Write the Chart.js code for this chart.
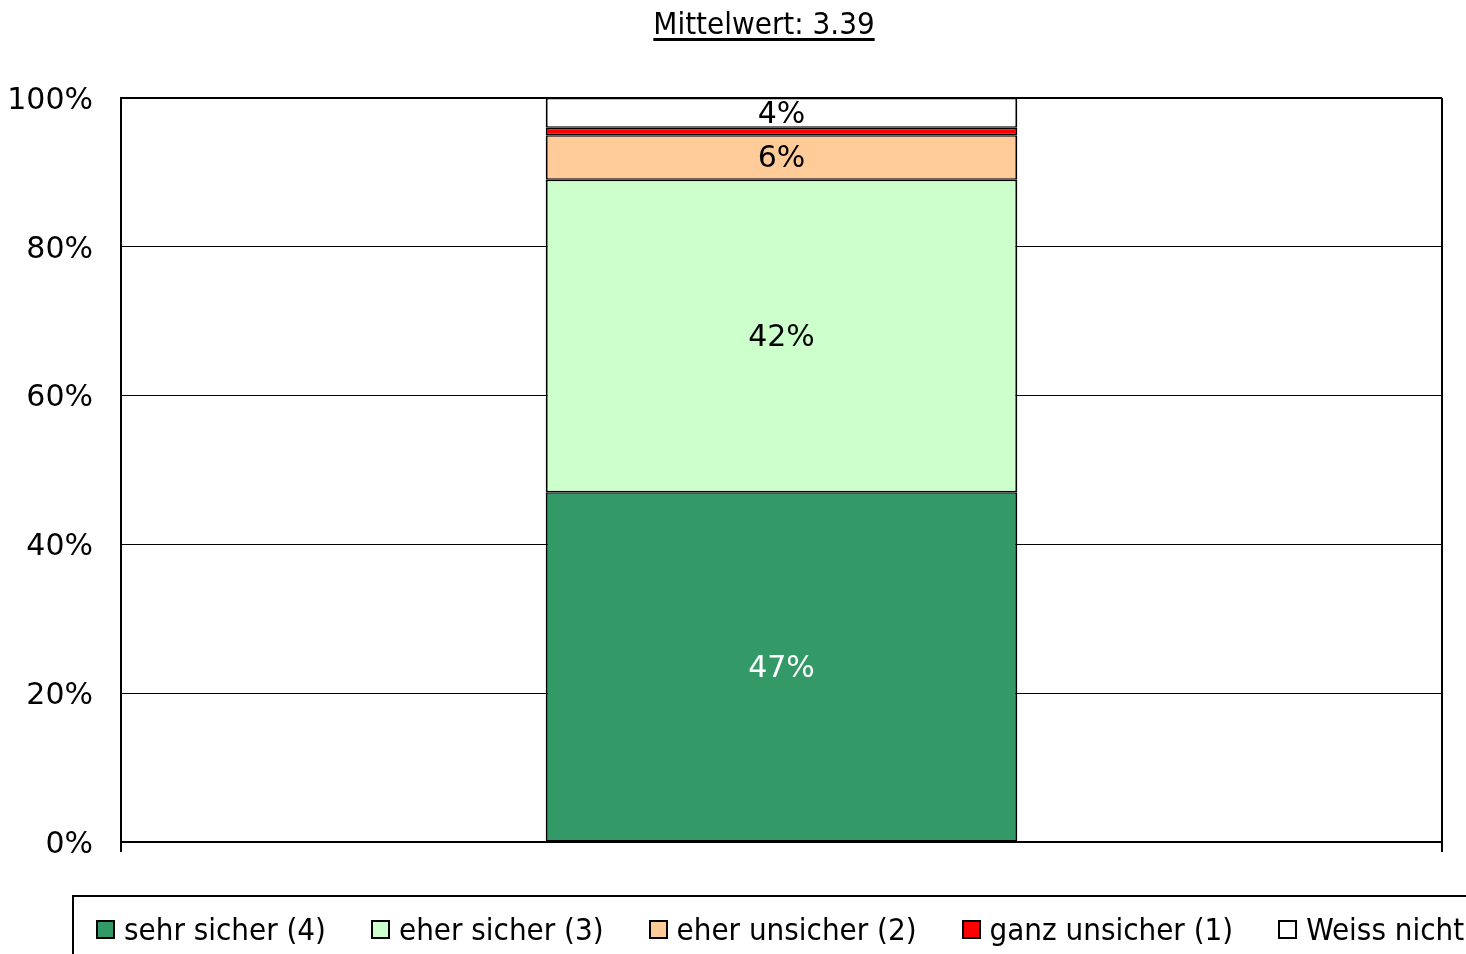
<!DOCTYPE html>
<html>
<head>
<meta charset="utf-8">
<script src="https://cdn.jsdelivr.net/npm/chart.js@4.4.0/dist/chart.umd.min.js"></script>
<style>
    body { margin: 0; width: 1466px; height: 954px; overflow: hidden; background: #fff; position: relative; }
    #chart { position: absolute; left: 0; top: 0; }
    #title {
        position: absolute; top: 5px; left: 564px; width: 400px; text-align: center;
        font-family: "DejaVu Sans Condensed", "DejaVu Sans", sans-serif; font-stretch: condensed;
        font-size: 31px; text-decoration: underline; text-underline-offset: 4px; color: #000;
    }
    #legend {
        position: absolute; left: 72px; top: 895px; width: 1500px; height: 80px;
        border: 2px solid #000; box-sizing: border-box;
        display: flex; align-items: flex-start; padding: 14px 0 0 22px; gap: 45px;
        font-family: "DejaVu Sans Condensed", "DejaVu Sans", sans-serif; font-stretch: condensed;
        font-size: 31px; color: #000; white-space: nowrap;
    }
    .item { display: flex; align-items: center; gap: 9px; }
    .swatch { width: 15px; height: 15px; border: 2px solid #000; }
</style>
</head>
<body>
<canvas id="chart" width="1466" height="954"></canvas>
<div id="title">Mittelwert: 3.39</div>
<div id="legend"></div>
<script>
// Chart data
const categories = [''];
const seriesNames = ['sehr sicher (4)', 'eher sicher (3)', 'eher unsicher (2)', 'ganz unsicher (1)', 'Weiss nicht'];
const sehrSicher = [47];
const eherSicher = [42];
const eherUnsicher = [6];
const ganzUnsicher = [1];
const weissNicht = [4];
const yTicks = [0, 20, 40, 60, 80, 100];

const seriesValues = [sehrSicher, eherSicher, eherUnsicher, ganzUnsicher, weissNicht];
const seriesColors = ['#339966', '#CCFFCC', '#FFCC99', '#FF0000', '#FFFFFF'];
const labelColors = ['#FFFFFF', '#000000', '#000000', '#000000', '#000000'];

const FONT = '"DejaVu Sans", sans-serif';

// draws the percentage inside each segment (skips segments too thin for text)
const barLabels = {
    id: 'barLabels',
    afterDatasetsDraw(chart) {
        const ctx = chart.ctx;
        ctx.save();
        ctx.font = '30px ' + FONT;
        ctx.textAlign = 'center';
        ctx.textBaseline = 'middle';
        chart.data.datasets.forEach((ds, i) => {
            const meta = chart.getDatasetMeta(i);
            meta.data.forEach((bar, j) => {
                const h = Math.abs(bar.base - bar.y);
                if (h < 20) return;
                ctx.fillStyle = labelColors[i];
                ctx.fillText(ds.data[j] + '%', bar.x, (bar.y + bar.base) / 2 + 2);
            });
        });
        ctx.restore();
    }
};

const datasets = seriesNames.map((name, i) => ({
    label: name,
    data: seriesValues[i],
    backgroundColor: seriesColors[i],
    borderColor: '#000',
    borderWidth: { top: 1.5, bottom: 1.5, left: 2, right: 2 },
    borderSkipped: false,
    barPercentage: 0.357,
    categoryPercentage: 1
}));

new Chart(document.getElementById('chart'), {
    type: 'bar',
    data: { labels: categories, datasets: datasets },
    options: {
        responsive: false,
        animation: false,
        layout: { padding: { top: 98, right: 24, left: 0, bottom: 0 } },
        plugins: {
            legend: { display: false },
            title: { display: false },
            tooltip: { enabled: false }
        },
        scales: {
            x: {
                stacked: true,
                grid: { display: true, offset: true, color: '#000', lineWidth: 2, tickLength: 10, drawOnChartArea: true },
                border: { display: true, color: '#000', width: 2 },
                ticks: { display: false },
                afterFit: scale => { scale.height = 112; }
            },
            y: {
                stacked: true,
                min: 0,
                max: 100,
                afterBuildTicks: scale => { scale.ticks = yTicks.map(v => ({ value: v })); },
                ticks: {
                    callback: v => v + '%',
                    color: '#000',
                    font: { family: FONT, size: 30 },
                    padding: 28,
                    labelOffset: 3
                },
                grid: {
                    color: '#000',
                    lineWidth: c => (c.tick && c.tick.value === 100 ? 2 : 1),
                    drawTicks: false
                },
                border: { display: true, color: '#000', width: 2 },
                afterFit: scale => { scale.width = 121; }
            }
        }
    },
    plugins: [barLabels]
});

// legend
const legend = document.getElementById('legend');
seriesNames.forEach((name, i) => {
    const item = document.createElement('div');
    item.className = 'item';
    item.innerHTML = `<span class="swatch" style="background:${seriesColors[i]}"></span><span>${name}</span>`;
    legend.appendChild(item);
});
</script>
</body>
</html>
